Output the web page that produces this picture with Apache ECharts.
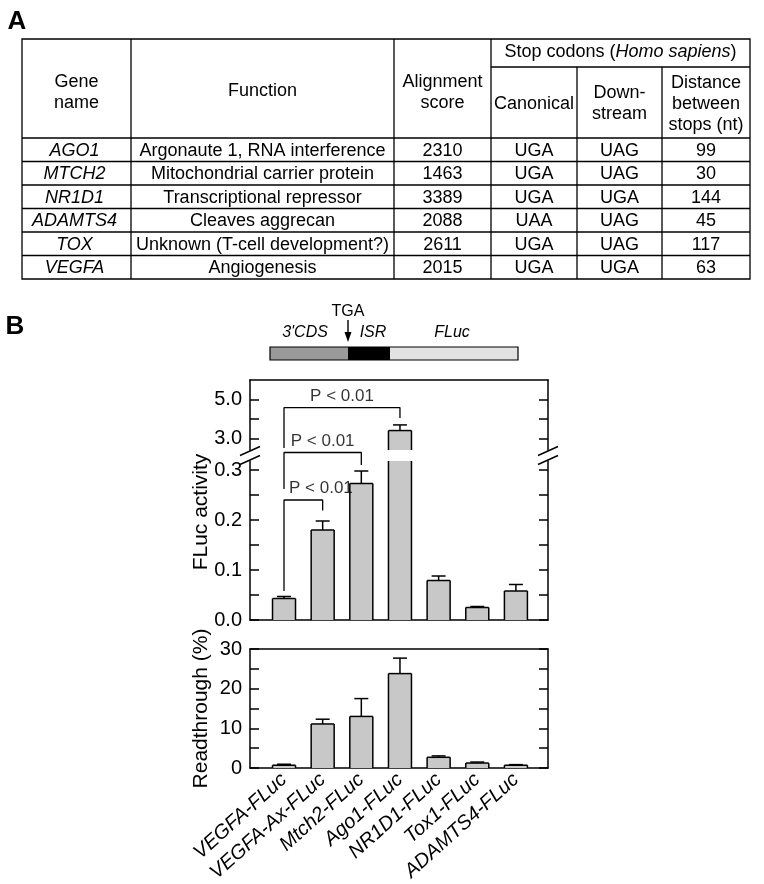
<!DOCTYPE html>
<html>
<head>
<meta charset="utf-8">
<script src="https://cdn.jsdelivr.net/npm/echarts@6/dist/echarts.min.js"></script>
<style>
  html, body { margin: 0; padding: 0; background: #fff; }
  #fig { width: 764px; height: 884px; }
</style>
</head>
<body>
<div id="fig"></div>
<script>
// ---- table (A)
const genes = ["AGO1", "MTCH2", "NR1D1", "ADAMTS4", "TOX", "VEGFA"];
const functions = [
  "Argonaute 1, RNA interference",
  "Mitochondrial carrier protein",
  "Transcriptional repressor",
  "Cleaves aggrecan",
  "Unknown (T-cell development?)",
  "Angiogenesis"
];
const alignScores = [2310, 1463, 3389, 2088, 2611, 2015];
const canonicalStops = ["UGA", "UGA", "UGA", "UAA", "UGA", "UGA"];
const downstreamStops = ["UAG", "UAG", "UGA", "UAG", "UAG", "UGA"];
const stopDistance = [99, 30, 144, 45, 117, 63];

// ---- bar charts (B)
const constructs = ["VEGFA-FLuc", "VEGFA-Ax-FLuc", "Mtch2-FLuc", "Ago1-FLuc", "NR1D1-FLuc", "Tox1-FLuc", "ADAMTS4-FLuc"];
const flucActivity = [0.043, 0.180, 0.273, 3.40, 0.079, 0.025, 0.058];
const flucErr = [0.004, 0.018, 0.025, 0.29, 0.009, 0.002, 0.013];
const readthrough = [0.7, 11.1, 13.0, 23.8, 2.7, 1.25, 0.7];
const readthroughErr = [0.25, 1.2, 4.5, 3.9, 0.35, 0.25, 0.15];

// axis ticks / labels
const flucUpperTicks = [3, 4, 5];
const flucUpperLabels = [3, 5];
const flucLowerTicks = [0, 0.05, 0.1, 0.15, 0.2, 0.25, 0.3];
const flucLowerLabels = [0, 0.1, 0.2, 0.3];
const rtTicks = [0, 5, 10, 15, 20, 25, 30];
const rtLabels = [0, 10, 20, 30];

// significance brackets (construct index from/to, bar height, leg ends)
const brackets = [
  { from: 0, to: 1, level: 0.240, leftEnd: 0.058, rightEnd: 0.219, upper: false },
  { from: 0, to: 2, level: 0.335, leftEnd: 0.262, rightEnd: 0.310, upper: false },
  { from: 0, to: 3, level: 4.58, leftEnd: 2.5, rightEnd: 4.04, upper: true }
];
const pLabel = "P < 0.01";

// ---- layout
const FONT = '"Liberation Sans", Arial, Helvetica, sans-serif';
const colX = [22, 131, 394, 491, 577, 662, 750];
const tabTop = 39, tabSub = 67, tabHead = 138, rowH = 23.5;
const plotL = 250, plotW = 298;
const X_MIN = -0.88, X_MAX = 6.83;
const BAR_W = 23, CAP_W = 14;
const BAR_FILL = "#c8c8c8";
const LW = 1.5;
const P_SIZE = 17;
const TICK_SIZE = 20;

const chart = echarts.init(document.getElementById("fig"));

function txt(x, y, text, extra) {
  return {
    type: "text", x: x, y: y, silent: true,
    style: Object.assign({
      text: text, fontFamily: FONT, fontSize: 18, fill: "#000",
      align: "center", verticalAlign: "middle", lineHeight: 21
    }, extra || {})
  };
}
function ln(x1, y1, x2, y2, w) {
  return {
    type: "line", silent: true,
    shape: { x1: x1, y1: y1, x2: x2, y2: y2 },
    style: { stroke: "#000", lineWidth: w || 1.3 }
  };
}

// table drawing
const tabBottom = tabHead + rowH * genes.length;
const graphics = [];
graphics.push({
  type: "rect", silent: true,
  shape: { x: colX[0], y: tabTop, width: colX[6] - colX[0], height: tabBottom - tabTop },
  style: { fill: "none", stroke: "#000", lineWidth: 1.3 }
});
[1, 2, 3].forEach(c => graphics.push(ln(colX[c], tabTop, colX[c], tabBottom)));
[4, 5].forEach(c => graphics.push(ln(colX[c], tabSub, colX[c], tabBottom)));
graphics.push(ln(colX[3], tabSub, colX[6], tabSub));
for (let r = 0; r < genes.length; r++) {
  graphics.push(ln(colX[0], tabHead + rowH * r, colX[6], tabHead + rowH * r));
}
const mid = c => (colX[c] + colX[c + 1]) / 2;
graphics.push(txt(mid(0), 93, "Gene\nname"));
graphics.push(txt(mid(1), 91, "Function"));
graphics.push(txt(mid(2), 93, "Alignment\nscore"));
graphics.push({
  type: "text", x: (colX[3] + colX[6]) / 2, y: 52, silent: true,
  style: {
    text: "{n|Stop codons (}{i|Homo sapiens}{n|)}",
    align: "center", verticalAlign: "middle",
    rich: {
      n: { fontFamily: FONT, fontSize: 18, fill: "#000" },
      i: { fontFamily: FONT, fontSize: 18, fill: "#000", fontStyle: "italic" }
    }
  }
});
graphics.push(txt(mid(3), 104, "Canonical"));
graphics.push(txt(mid(4), 104, "Down-\nstream"));
graphics.push(txt(mid(5), 104, "Distance\nbetween\nstops (nt)"));
genes.forEach((g, r) => {
  const y = tabHead + rowH * (r + 0.5) + 1;
  graphics.push(txt(mid(0) - 2, y, g, { fontStyle: "italic" }));
  graphics.push(txt(mid(1), y, functions[r]));
  graphics.push(txt(mid(2), y, String(alignScores[r])));
  graphics.push(txt(mid(3), y, canonicalStops[r]));
  graphics.push(txt(mid(4), y, downstreamStops[r]));
  graphics.push(txt(mid(5), y, String(stopDistance[r])));
});

// panel letters
graphics.push(txt(17, 22, "A", { fontSize: 26, fontWeight: "bold" }));
graphics.push(txt(15, 327, "B", { fontSize: 26, fontWeight: "bold" }));

// construct diagram
const cTop = 347, cH = 13;
graphics.push({ type: "rect", silent: true, shape: { x: 270, y: cTop, width: 78, height: cH }, style: { fill: "#9a9a9a" } });
graphics.push({ type: "rect", silent: true, shape: { x: 348, y: cTop, width: 42, height: cH }, style: { fill: "#000" } });
graphics.push({ type: "rect", silent: true, shape: { x: 390, y: cTop, width: 128, height: cH }, style: { fill: "#e2e2e2" } });
graphics.push({ type: "rect", silent: true, shape: { x: 270, y: cTop, width: 248, height: cH }, style: { fill: "none", stroke: "#000", lineWidth: 1.2 } });
graphics.push(txt(348, 312, "TGA", { fontSize: 16 }));
graphics.push(ln(348, 320, 348, 336, 1.4));
graphics.push({ type: "polygon", silent: true, shape: { points: [[344.5, 332], [351.5, 332], [348, 342]] }, style: { fill: "#000" } });
graphics.push(txt(305, 333, "3'CDS", { fontSize: 16, fontStyle: "italic" }));
graphics.push(txt(373, 333, "ISR", { fontSize: 16, fontStyle: "italic" }));
graphics.push(txt(452, 333, "FLuc", { fontSize: 16, fontStyle: "italic" }));

// axis break marks between the two FLuc segments
const breakY = 455.5;
[plotL, plotL + plotW].forEach(cx => {
  [-4.5, 4.5].forEach(dy => graphics.push(ln(cx - 10, breakY + dy + 4.5, cx + 10, breakY + dy - 4.5, 1.4)));
});
// FLuc y title (spans both broken segments)
const flucTitle = txt(201, 512, "FLuc activity", { fontSize: 21 });
flucTitle.rotation = Math.PI / 2;
graphics.push(flucTitle);

// ---- bars with clipped outline and upper error bar
function barItem(params, api) {
  const x = api.value(0), v = api.value(1), e = api.value(2);
  const cs = params.coordSys;
  const base = api.coord([x, 0]);
  const top = api.coord([x, v]);
  const errTop = api.coord([x, v + e]);
  const yBottom = Math.min(base[1], cs.y + cs.height);
  const yTop = Math.max(top[1], cs.y);
  if (yTop >= yBottom) return null;
  const xl = base[0] - BAR_W / 2, xr = base[0] + BAR_W / 2;
  const st = { stroke: "#000", lineWidth: LW };
  const children = [
    { type: "rect", shape: { x: xl, y: yTop, width: BAR_W, height: yBottom - yTop }, style: { fill: BAR_FILL } },
    { type: "line", shape: { x1: xl, y1: yTop, x2: xl, y2: yBottom }, style: st },
    { type: "line", shape: { x1: xr, y1: yTop, x2: xr, y2: yBottom }, style: st }
  ];
  if (top[1] >= cs.y) {
    children.push({ type: "line", shape: { x1: xl, y1: top[1], x2: xr, y2: top[1] }, style: st });
    children.push({ type: "line", shape: { x1: base[0], y1: top[1], x2: base[0], y2: errTop[1] }, style: st });
    children.push({ type: "line", shape: { x1: base[0] - CAP_W / 2, y1: errTop[1], x2: base[0] + CAP_W / 2, y2: errTop[1] }, style: st });
  }
  return { type: "group", children: children };
}

const xBase = {
  type: "value", min: X_MIN, max: X_MAX,
  axisLine: { show: true, onZero: false, lineStyle: { color: "#000", width: LW } },
  axisTick: { show: false }, axisLabel: { show: false }, splitLine: { show: false }
};
function yAxisDef(grid, pos, min, max, ticks, labels, digits) {
  return {
    type: "value", gridIndex: grid, position: pos, min: min, max: max,
    axisLine: { show: true, onZero: false, lineStyle: { color: "#000", width: LW } },
    axisTick: { show: true, inside: true, length: 9, customValues: ticks, lineStyle: { color: "#000", width: LW } },
    axisLabel: {
      show: pos === "left", customValues: labels, margin: 8,
      fontFamily: FONT, fontSize: TICK_SIZE, color: "#000",
      formatter: v => Number(v).toFixed(digits)
    },
    splitLine: { show: false }
  };
}

// keep the P label clear of the bracket's left leg
const measure = document.createElement("canvas").getContext("2d");
measure.font = P_SIZE + "px " + FONT;
const pW = measure.measureText(pLabel).width;
const unitPx = plotW / (X_MAX - X_MIN);

const series = [];
const flucData = flucActivity.map((v, i) => [i, v, flucErr[i]]);
const rtData = readthrough.map((v, i) => [i, v, readthroughErr[i]]);
series.push({ type: "custom", xAxisIndex: 0, yAxisIndex: 0, data: flucData, renderItem: barItem, silent: true });
series.push({ type: "custom", xAxisIndex: 1, yAxisIndex: 2, data: flucData, renderItem: barItem, silent: true });
series.push({ type: "custom", xAxisIndex: 2, yAxisIndex: 4, data: rtData, renderItem: barItem, silent: true });
brackets.forEach(b => {
  const xi = b.upper ? 0 : 1, yi = b.upper ? 0 : 2;
  const halfSpan = (b.to - b.from) * unitPx / 2;
  const dx = Math.max(0, pW / 2 - halfSpan + 5);
  series.push({
    type: "line", xAxisIndex: xi, yAxisIndex: yi, clip: false, silent: true,
    symbol: "none", lineStyle: { color: "#000", width: 1.3 },
    data: [[b.from, b.leftEnd], [b.from, b.level], [b.to, b.level], [b.to, b.rightEnd]]
  });
  series.push({
    type: "scatter", xAxisIndex: xi, yAxisIndex: yi, clip: false, silent: true,
    symbolSize: 0,
    label: {
      show: true, position: "top", distance: 3, offset: [dx, 0], formatter: pLabel,
      fontFamily: FONT, fontSize: P_SIZE, color: "#000"
    },
    data: [[(b.from + b.to) / 2, b.level]]
  });
});

const gridBase = { left: plotL, width: plotW, containLabel: false, outerBoundsMode: "none" };
chart.setOption({
  animation: false,
  backgroundColor: "#fff",
  grid: [
    Object.assign({ top: 380, height: 70 }, gridBase),
    Object.assign({ top: 461, height: 159 }, gridBase),
    Object.assign({ top: 649, height: 119 }, gridBase)
  ],
  xAxis: [
    Object.assign({}, xBase, { gridIndex: 0, position: "top" }),
    Object.assign({}, xBase, { gridIndex: 1, position: "bottom" }),
    Object.assign({}, xBase, {
      gridIndex: 2, position: "bottom",
      axisLabel: {
        show: true, customValues: constructs.map((c, i) => i),
        formatter: v => constructs[Math.round(v)],
        rotate: 42, margin: 9, fontFamily: FONT, fontSize: 20, fontStyle: "italic", color: "#000"
      }
    }),
    Object.assign({}, xBase, { gridIndex: 2, position: "top" })
  ],
  yAxis: [
    yAxisDef(0, "left", 2.4, 6, flucUpperTicks, flucUpperLabels, 1),
    yAxisDef(0, "right", 2.4, 6, flucUpperTicks, flucUpperLabels, 1),
    yAxisDef(1, "left", 0, 0.318, flucLowerTicks, flucLowerLabels, 1),
    yAxisDef(1, "right", 0, 0.318, flucLowerTicks, flucLowerLabels, 1),
    Object.assign(yAxisDef(2, "left", 0, 30, rtTicks, rtLabels, 0), {
      name: "Readthrough (%)", nameLocation: "middle", nameGap: 38,
      nameTextStyle: { fontFamily: FONT, fontSize: 21, color: "#000" }
    }),
    yAxisDef(2, "right", 0, 30, rtTicks, rtLabels, 0)
  ],
  series: series,
  graphic: graphics
});
</script>
</body>
</html>
